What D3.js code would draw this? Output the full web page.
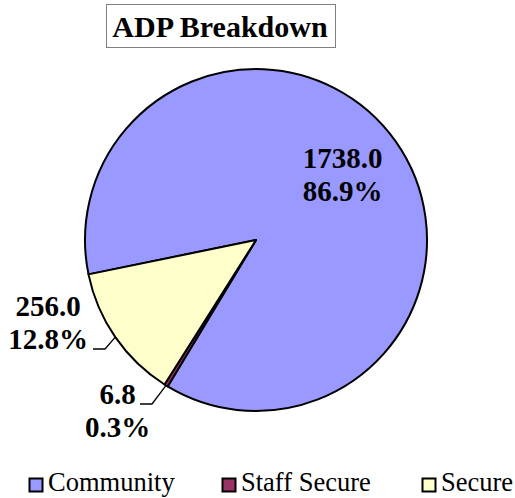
<!DOCTYPE html>
<html>
<head>
<meta charset="utf-8">
<script src="https://cdn.jsdelivr.net/npm/d3@7/dist/d3.min.js"></script>
<style>
  body { margin: 0; background: #fff; }
  text { font-family: "Liberation Serif", "Times New Roman", serif; }
</style>
</head>
<body>
<div id="chart"></div>
<script>
// Chart data
var categories = ["Community", "Staff Secure", "Secure"];
var values = [1738.0, 6.8, 256.0];
var percentLabels = ["86.9%", "0.3%", "12.8%"];
var colors = ["#9999ff", "#993366", "#ffffcc"];

var width = 515;
var height = 498;

var svg = d3.select("#chart").append("svg").attr("width", width).attr("height", height);

// Title box
svg.append("rect")
    .attr("x", 106.5).attr("y", 4.5)
    .attr("width", 229).attr("height", 43)
    .style("fill", "#fff").style("stroke", "#808080").style("stroke-width", 1);
svg.append("text")
    .attr("x", 220).attr("y", 37)
    .attr("text-anchor", "middle")
    .style("font-size", "30px").style("font-weight", "bold")
    .text("ADP Breakdown");

// Pie
var cx = 256, cy = 240, radius = 171;
var rotation = 258.4 * Math.PI / 180;  // first slice starts here, clockwise

var pie = d3.pie().sort(null)
    .startAngle(rotation).endAngle(rotation + 2 * Math.PI)
    .value(function(d) { return d; });
var arcs = pie(values);

var arc = d3.arc().innerRadius(0).outerRadius(radius);

var g = svg.append("g").attr("transform", "translate(" + cx + "," + cy + ")");

g.selectAll("path")
    .data(arcs)
    .enter().append("path")
    .attr("d", arc)
    .style("fill", function(d, i) { return colors[i]; })
    .style("stroke", "#000")
    .style("stroke-width", 2)
    .style("stroke-linejoin", "round");

function pointAt(angle, r) {
    return [Math.sin(angle) * r, -Math.cos(angle) * r];
}

// Label placement (inside for the big slice, outside with leaders for the others)
var labelLayout = [
    {inside: true, r: 106},
    {x: -138.5, y: 164, leader: [[-104, 164], [-116, 164]]},
    {x: -208, y: 76, leader: [[-151, 109], [-163, 109]]}
];

arcs.forEach(function(d, i) {
    var mid = (d.startAngle + d.endAngle) / 2;
    var lay = labelLayout[i];
    var lx, ly;
    if (lay.inside) {
        var p = pointAt(mid, lay.r);
        lx = p[0]; ly = p[1] - 11;
    } else {
        lx = lay.x; ly = lay.y;
        var edge = pointAt(mid, radius);
        var pts = [edge].concat(lay.leader);
        g.append("path")
            .attr("d", d3.line()(pts))
            .style("fill", "none").style("stroke", "#000").style("stroke-width", 1.3);
    }
    var t = g.append("text")
        .attr("text-anchor", "middle")
        .style("font-size", "29px").style("font-weight", "bold");
    t.append("tspan").attr("x", lx).attr("y", ly).text(d3.format(".1f")(values[i]));
    t.append("tspan").attr("x", lx).attr("y", ly + 33).text(percentLabels[i]);
});

// Legend
var legendX = [29, 222, 422];
var legend = svg.append("g");
categories.forEach(function(c, i) {
    legend.append("rect")
        .attr("x", legendX[i] + 0.5).attr("y", 478.5)
        .attr("width", 13).attr("height", 13)
        .style("fill", colors[i]).style("stroke", "#000").style("stroke-width", 2);
    legend.append("text")
        .attr("x", legendX[i] + 19).attr("y", 491)
        .style("font-size", "26.5px")
        .text(c);
});
</script>
</body>
</html>
